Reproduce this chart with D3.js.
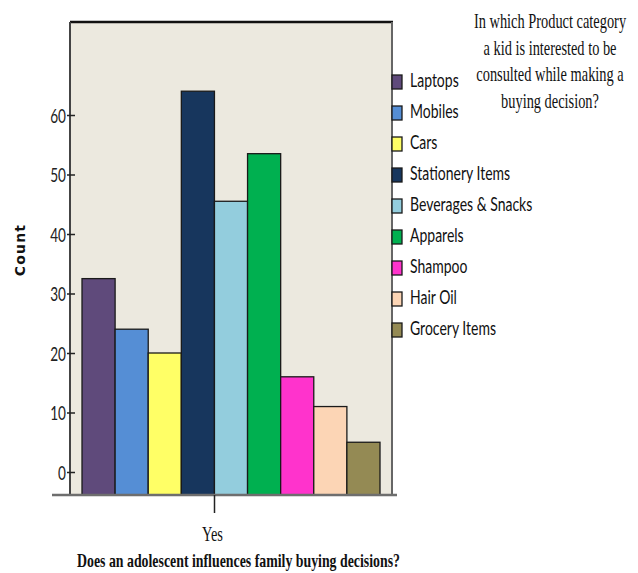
<!DOCTYPE html>
<html>
<head>
<meta charset="utf-8">
<script src="https://cdn.jsdelivr.net/npm/d3@7"></script>
<style>
  body { margin: 0; background: #fff; }
  svg { display: block; }
</style>
</head>
<body>
<div id="chart"></div>
<script>
const categories = ['Laptops', 'Mobiles', 'Cars', 'Stationery Items', 'Beverages & Snacks',
  'Apparels', 'Shampoo', 'Hair Oil', 'Grocery Items'];
const counts = [32.5, 24, 20, 64, 45.5, 53.5, 16, 11, 5];
const colors = ['#5f4a7b', '#558ed5', '#ffff66', '#17365d', '#93cddd',
  '#00b050', '#ff33cc', '#fcd5b5', '#948a54'];
const groups = ['Yes'];
const yTicks = [0, 10, 20, 30, 40, 50, 60];
const titleLines = ['In which Product category', 'a kid is interested to be',
  'consulted while making a', 'buying decision?'];

const width = 638, height = 573;
const plot = { left: 70, right: 392, top: 22, bottom: 495 };

const svg = d3.select('#chart').append('svg')
  .attr('width', width).attr('height', height);

// plot background
svg.append('rect')
  .attr('x', plot.left).attr('y', plot.top)
  .attr('width', plot.right - plot.left).attr('height', plot.bottom - plot.top)
  .attr('fill', '#ece9df');

const y = d3.scaleLinear().domain([0, 60]).range([472, 115]);

// outer scale: one group "Yes"
const x0 = d3.scalePoint().domain(groups).range([214, 214]);
const x1 = d3.scaleBand().domain(categories).range([82, 380]).padding(0);

const color = d3.scaleOrdinal().domain(categories).range(colors);

// bars
svg.append('g')
  .selectAll('rect')
  .data(categories)
  .join('rect')
  .attr('x', d => x1(d))
  .attr('y', (d, i) => y(counts[i]))
  .attr('width', x1.bandwidth())
  .attr('height', (d, i) => plot.bottom - y(counts[i]))
  .attr('fill', d => color(d))
  .attr('stroke', '#1a1a1a')
  .attr('stroke-width', 1.3);

// frame
svg.append('line')
  .attr('x1', plot.left).attr('x2', plot.right + 1)
  .attr('y1', plot.top).attr('y2', plot.top)
  .attr('stroke', '#111').attr('stroke-width', 2.5);
svg.append('line')
  .attr('x1', plot.left).attr('x2', plot.left)
  .attr('y1', plot.top).attr('y2', plot.bottom)
  .attr('stroke', '#444').attr('stroke-width', 2);
svg.append('line')
  .attr('x1', plot.right).attr('x2', plot.right)
  .attr('y1', plot.top).attr('y2', plot.bottom)
  .attr('stroke', '#666').attr('stroke-width', 2);
svg.append('line')
  .attr('x1', 52).attr('x2', 397)
  .attr('y1', plot.bottom).attr('y2', plot.bottom)
  .attr('stroke', '#6e6e6e').attr('stroke-width', 2.5);

// y axis
const yAxis = g => g
  .attr('transform', `translate(${plot.left},0)`)
  .call(d3.axisLeft(y).tickValues(yTicks).tickSize(3).tickPadding(0))
  .call(g => g.select('.domain').remove())
  .call(g => g.selectAll('.tick line')
    .attr('x1', -3).attr('x2', 5)
    .attr('stroke', '#222').attr('stroke-width', 1.5))
  .call(g => g.selectAll('.tick text')
    .attr('x', 0).attr('dy', '0.36em')
    .attr('text-anchor', 'end')
    .attr('transform', 'translate(-4,0) scale(0.68,1)')
    .attr('font-family', 'Lato, "Open Sans", sans-serif')
    .attr('font-size', 20)
    .attr('fill', '#222'));

svg.append('g').call(yAxis);

// x axis
const xAxis = g => g
  .attr('transform', `translate(0,${plot.bottom})`)
  .call(d3.axisBottom(x0).tickSize(18).tickPadding(0))
  .call(g => g.select('.domain').remove())
  .call(g => g.selectAll('.tick line').attr('stroke', '#222').attr('stroke-width', 1.5))
  .call(g => g.selectAll('.tick text')
    .attr('y', 0).attr('dy', 0)
    .attr('transform', 'translate(-2,46) scale(0.72,1)')
    .attr('font-family', '"Liberation Serif", "DejaVu Serif", serif')
    .attr('font-size', 20)
    .attr('fill', '#111'));

svg.append('g').call(xAxis);

// axis titles
svg.append('text')
  .attr('x', 77).attr('y', 567)
  .attr('textLength', 323).attr('lengthAdjust', 'spacingAndGlyphs')
  .attr('font-family', '"Liberation Serif", "DejaVu Serif", serif')
  .attr('font-weight', 'bold')
  .attr('font-size', 19)
  .attr('fill', '#111')
  .text('Does an adolescent influences family buying decisions?');

svg.append('text')
  .attr('transform', 'translate(25,250) rotate(-90)')
  .attr('text-anchor', 'middle')
  .attr('font-family', '"DejaVu Sans", sans-serif')
  .attr('font-weight', 'bold')
  .attr('font-size', 14)
  .attr('letter-spacing', 1.2)
  .attr('fill', '#111')
  .text('Count');

// legend
const ly = d3.scalePoint().domain(categories).range([87, 335]);
const legend = svg.append('g')
  .selectAll('g')
  .data(categories)
  .join('g')
  .attr('transform', d => `translate(392,${ly(d)})`);

legend.append('rect')
  .attr('x', 0).attr('y', -12)
  .attr('width', 10).attr('height', 14)
  .attr('fill', d => color(d))
  .attr('stroke', '#1a1a1a').attr('stroke-width', 1.3);

legend.append('text')
  .attr('transform', 'translate(18,0) scale(0.7,1)')
  .attr('font-family', 'Lato, "Open Sans", sans-serif')
  .attr('font-size', 20)
  .attr('fill', '#111')
  .text(d => d);

// title
const ty = d3.scalePoint().domain(d3.range(titleLines.length)).range([28, 108]);
svg.append('g')
  .selectAll('text')
  .data(titleLines)
  .join('text')
  .attr('transform', (d, i) => `translate(550,${ty(i)}) scale(0.72,1)`)
  .attr('text-anchor', 'middle')
  .attr('font-family', '"Liberation Serif", "DejaVu Serif", serif')
  .attr('font-size', 20)
  .attr('fill', '#111')
  .text(d => d);
</script>
</body>
</html>
